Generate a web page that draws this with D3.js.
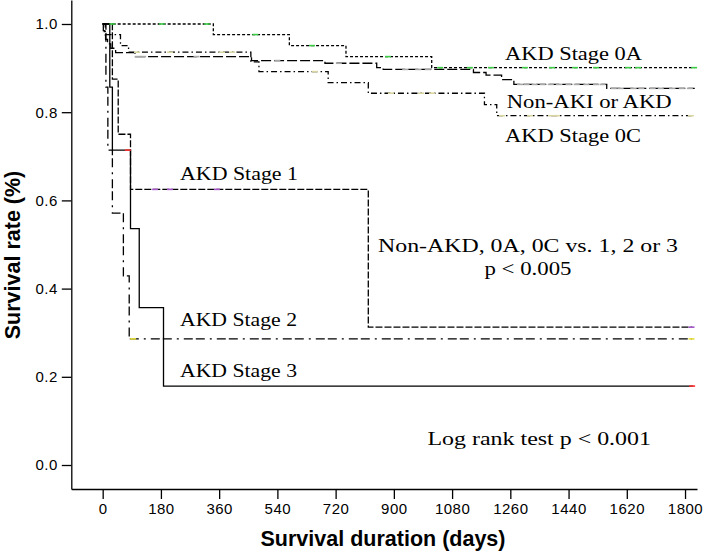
<!DOCTYPE html>
<html>
<head>
<meta charset="utf-8">
<script src="https://cdn.jsdelivr.net/npm/d3@7"></script>
<style>
body { margin: 0; background: #fff; }
svg { display: block; }
.note { font-family: "Liberation Serif", "Times New Roman", serif; font-size: 19px; fill: #000; }
.axis-title { font-family: "Liberation Sans", Arial, sans-serif; font-weight: bold; font-size: 21.5px; }
</style>
</head>
<body>
<div id="chart"></div>
<script>
width = 705
height = 555

// Kaplan-Meier steps: day where the step starts, survival after it
let xTicks = [0, 180, 360, 540, 720, 900, 1080, 1260, 1440, 1620, 1800]
let yTicks = [0, 0.2, 0.4, 0.6, 0.8, 1.0]

let nonAkiDays = [0, 2, 5, 9, 15, 25, 40, 100, 460, 687, 847, 867, 1146, 1185, 1233, 1271, 1558, 1830]
let nonAkiSurv = [1, 0.985, 0.975, 0.965, 0.955, 0.945, 0.935, 0.926, 0.917, 0.911, 0.901, 0.897, 0.890, 0.884, 0.874, 0.863, 0.854, 0.854]
let nonAkiCensor = [108, 125, 290, 540, 730, 935, 975, 1005, 1290, 1310, 1335, 1360, 1385, 1410, 1440, 1465, 1495, 1525, 1545, 1580, 1600, 1640, 1665, 1700, 1725, 1760, 1790, 1815]

let stage0aDays = [0, 342, 577, 752, 1017, 1830]
let stage0aSurv = [1, 0.976, 0.951, 0.926, 0.901, 0.901]
let stage0aCensor = [30, 183, 322, 472, 647, 882, 1043, 1135, 1200, 1305, 1389, 1460, 1525, 1624, 1655, 1828]

let stage0cDays = [0, 8, 55, 80, 458, 483, 697, 821, 1180, 1218, 1820]
let stage0cSurv = [1, 0.976, 0.951, 0.936, 0.914, 0.892, 0.867, 0.843, 0.817, 0.792, 0.792]
let stage0cCensor = [106, 208, 369, 400, 656, 891, 984, 1018, 1234, 1321, 1386, 1404, 1818]

let stage1Days = [0, 30, 48, 86, 821, 1822]
let stage1Surv = [1, 0.875, 0.75, 0.625, 0.3125, 0.3125]
let stage1Censor = [162, 208, 353, 1820]

let stage2Days = [0, 10, 16, 30, 64, 82, 1822]
let stage2Surv = [1, 0.857, 0.714, 0.571, 0.429, 0.286, 0.286]
let stage2Censor = [94, 1820]

let stage3Days = [0, 22, 30, 86, 113, 188, 1825]
let stage3Surv = [1, 0.857, 0.714, 0.536, 0.357, 0.179, 0.179]
let stage3Censor = [78, 1822]

let groups = [
	{name: "Non-AKI or AKD", days: nonAkiDays, surv: nonAkiSurv, censor: nonAkiCensor, dash: "10,3", mark: "#a8a8a8"},
	{name: "AKD Stage 0A", days: stage0aDays, surv: stage0aSurv, censor: stage0aCensor, dash: "3,2", mark: "#3ccc46"},
	{name: "AKD Stage 0C", days: stage0cDays, surv: stage0cSurv, censor: stage0cCensor, dash: "6,3,1.5,3", mark: "#d9d6a2"},
	{name: "AKD Stage 1", days: stage1Days, surv: stage1Surv, censor: stage1Censor, dash: "7,2", mark: "#a558c8"},
	{name: "AKD Stage 2", days: stage2Days, surv: stage2Surv, censor: stage2Censor, dash: "9,3,9,5,2,5", mark: "#e8e23c"},
	{name: "AKD Stage 3", days: stage3Days, surv: stage3Surv, censor: stage3Censor, dash: null, mark: "#ff3030"}
]

let svg = d3.select("#chart")
.append("svg")
.attr("width", width)
.attr("height", height)

let x = d3.scaleLinear().domain([-97, 1837]).range([71.3, 697])
let y = d3.scaleLinear().domain([-0.0544, 1.0544]).range([489, 0])

// axes
let xAxis = svg.append("g")
.attr("transform", "translate(0,489)")
.call(d3.axisBottom(x).tickValues(xTicks).tickFormat(d3.format("d")).tickSize(10).tickSizeOuter(0).tickPadding(4))

let yAxis = svg.append("g")
.attr("transform", "translate(71.3,0)")
.call(d3.axisLeft(y).tickValues(yTicks).tickFormat(d3.format(".1f")).tickSize(9.5).tickSizeOuter(0).tickPadding(4))

;[xAxis, yAxis].forEach(a => {
	a.selectAll("path, line").attr("stroke", "#000").attr("stroke-width", 1.3)
	a.selectAll("text")
		.attr("font-family", "'Liberation Sans', Arial, sans-serif")
		.attr("font-size", 15)
		.attr("letter-spacing", 0.5)
		.attr("fill", "#000")
})

svg.append("text")
.attr("class", "axis-title")
.attr("x", 383)
.attr("y", 546)
.attr("text-anchor", "middle")
.text("Survival duration (days)")

svg.append("text")
.attr("class", "axis-title")
.attr("transform", "translate(20,255) rotate(-90)")
.attr("text-anchor", "middle")
.text("Survival rate (%)")

// survival curves
let line = d3.line()
.x(d => x(d[0]))
.y(d => y(d[1]))
.curve(d3.curveStepAfter)

let curves = svg.append("g")

groups.forEach(g => {
	let pts = g.days.map((d, i) => [d, g.surv[i]])
	curves.append("path")
		.attr("d", line(pts))
		.attr("fill", "none")
		.attr("stroke", "#000")
		.attr("stroke-width", 1.3)
		.attr("stroke-dasharray", g.dash)
})

// censor marks, coloured like the SPSS output
groups.forEach(g => {
	g.censor.forEach(c => {
		let i = d3.bisectRight(g.days, c) - 1
		let s = g.surv[Math.max(0, i)]
		curves.append("line")
			.attr("x1", x(c) - 3)
			.attr("x2", x(c) + 3)
			.attr("y1", y(s))
			.attr("y2", y(s))
			.attr("stroke", g.mark)
			.attr("stroke-width", 1.6)
	})
})

// annotations
let notes = [
	{t: "AKD Stage 0A", x: 505, y: 60, w: 137},
	{t: "Non-AKI or AKD", x: 506.7, y: 108.3, w: 165},
	{t: "AKD Stage 0C", x: 505, y: 141.7, w: 136},
	{t: "AKD Stage 1", x: 180, y: 180, w: 118},
	{t: "AKD Stage 2", x: 180, y: 326, w: 117},
	{t: "AKD Stage 3", x: 180, y: 376.7, w: 117},
	{t: "Non-AKD, 0A, 0C vs. 1, 2 or 3", x: 378, y: 251.7, w: 300},
	{t: "p < 0.005", x: 484.5, y: 275, w: 87},
	{t: "Log rank test p < 0.001", x: 427.5, y: 445, w: 223.5}
]

svg.append("g")
.selectAll("text")
.data(notes)
.join("text")
.attr("class", "note")
.attr("x", d => d.x)
.attr("y", d => d.y)
.attr("textLength", d => d.w)
.attr("lengthAdjust", "spacingAndGlyphs")
.text(d => d.t)
</script>
</body>
</html>
